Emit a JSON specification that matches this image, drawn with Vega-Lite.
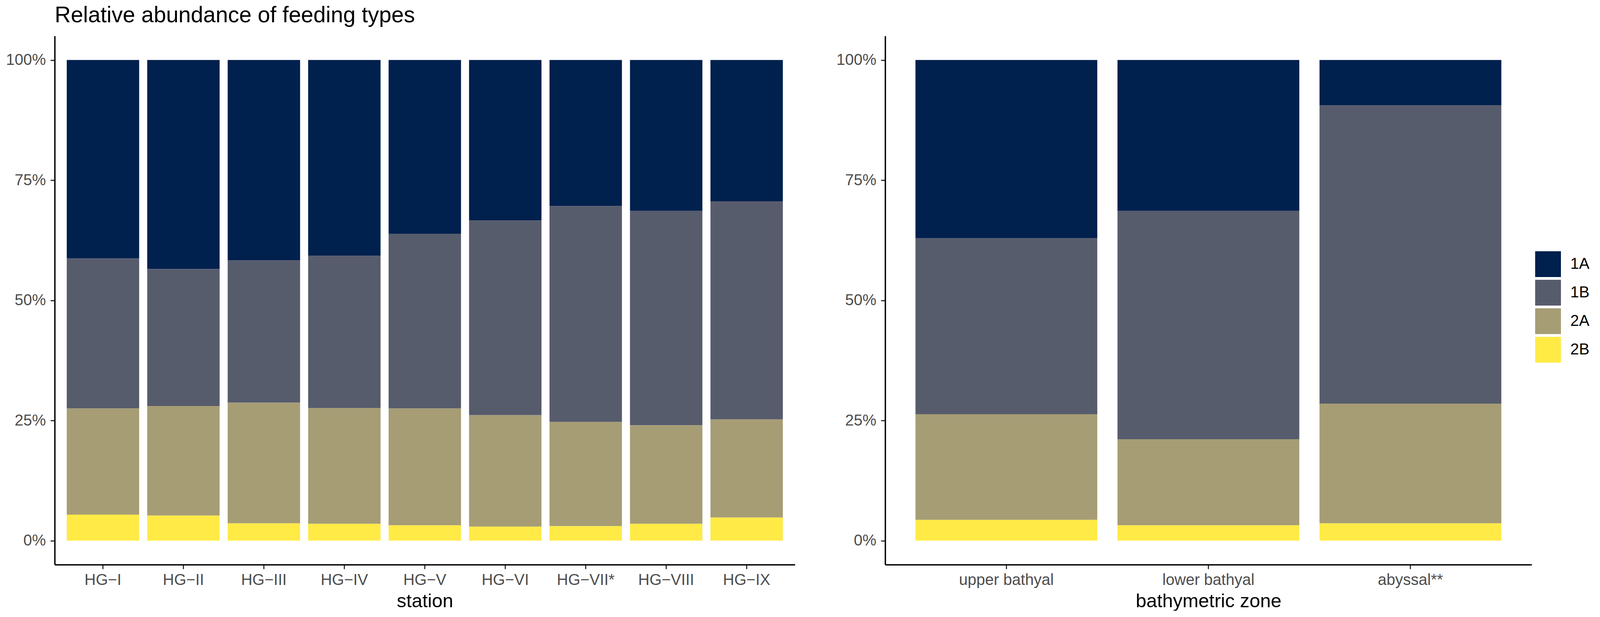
{
  "$schema": "https://vega.github.io/schema/vega-lite/v6.json",
  "padding": {"left": 14, "top": 11, "right": 0, "bottom": 0},
  "background": "white",
  "bounds": "flush",
  "spacing": 231,
  "title": {
    "text": "Relative abundance of feeding types",
    "anchor": "start",
    "frame": "group",
    "font": "Liberation Sans",
    "fontSize": 57,
    "fontWeight": "normal",
    "color": "black",
    "offset": 23
  },
  "datasets": {
    "stations": [
      {"station": "HG−I", "type": "1A", "share": 41.3},
      {"station": "HG−I", "type": "1B", "share": 31.2},
      {"station": "HG−I", "type": "2A", "share": 22.1},
      {"station": "HG−I", "type": "2B", "share": 5.4},
      {"station": "HG−II", "type": "1A", "share": 43.5},
      {"station": "HG−II", "type": "1B", "share": 28.5},
      {"station": "HG−II", "type": "2A", "share": 22.8},
      {"station": "HG−II", "type": "2B", "share": 5.2},
      {"station": "HG−III", "type": "1A", "share": 41.7},
      {"station": "HG−III", "type": "1B", "share": 29.6},
      {"station": "HG−III", "type": "2A", "share": 25.1},
      {"station": "HG−III", "type": "2B", "share": 3.6},
      {"station": "HG−IV", "type": "1A", "share": 40.7},
      {"station": "HG−IV", "type": "1B", "share": 31.7},
      {"station": "HG−IV", "type": "2A", "share": 24.1},
      {"station": "HG−IV", "type": "2B", "share": 3.5},
      {"station": "HG−V", "type": "1A", "share": 36.2},
      {"station": "HG−V", "type": "1B", "share": 36.3},
      {"station": "HG−V", "type": "2A", "share": 24.3},
      {"station": "HG−V", "type": "2B", "share": 3.2},
      {"station": "HG−VI", "type": "1A", "share": 33.4},
      {"station": "HG−VI", "type": "1B", "share": 40.5},
      {"station": "HG−VI", "type": "2A", "share": 23.2},
      {"station": "HG−VI", "type": "2B", "share": 2.9},
      {"station": "HG−VII*", "type": "1A", "share": 30.4},
      {"station": "HG−VII*", "type": "1B", "share": 44.9},
      {"station": "HG−VII*", "type": "2A", "share": 21.7},
      {"station": "HG−VII*", "type": "2B", "share": 3.0},
      {"station": "HG−VIII", "type": "1A", "share": 31.4},
      {"station": "HG−VIII", "type": "1B", "share": 44.6},
      {"station": "HG−VIII", "type": "2A", "share": 20.5},
      {"station": "HG−VIII", "type": "2B", "share": 3.5},
      {"station": "HG−IX", "type": "1A", "share": 29.4},
      {"station": "HG−IX", "type": "1B", "share": 45.4},
      {"station": "HG−IX", "type": "2A", "share": 20.4},
      {"station": "HG−IX", "type": "2B", "share": 4.8}
    ],
    "zones": [
      {"zone": "upper bathyal", "type": "1A", "share": 37.1},
      {"zone": "upper bathyal", "type": "1B", "share": 36.6},
      {"zone": "upper bathyal", "type": "2A", "share": 22.0},
      {"zone": "upper bathyal", "type": "2B", "share": 4.3},
      {"zone": "lower bathyal", "type": "1A", "share": 31.4},
      {"zone": "lower bathyal", "type": "1B", "share": 47.5},
      {"zone": "lower bathyal", "type": "2A", "share": 17.9},
      {"zone": "lower bathyal", "type": "2B", "share": 3.2},
      {"zone": "abyssal**", "type": "1A", "share": 9.4},
      {"zone": "abyssal**", "type": "1B", "share": 62.1},
      {"zone": "abyssal**", "type": "2A", "share": 24.9},
      {"zone": "abyssal**", "type": "2B", "share": 3.6}
    ]
  },
  "hconcat": [
    {
      "width": 1895,
      "height": 1353,
      "data": {"name": "stations"},
      "mark": "bar",
      "encoding": {
        "x": {
          "field": "station",
          "type": "nominal",
          "sort": null,
          "scale": {"paddingInner": 0.1, "paddingOuter": 0.15},
          "title": "station"
        },
        "y": {
          "field": "share",
          "type": "quantitative",
          "stack": "normalize",
          "scale": {"domain": [-0.05, 1.05], "nice": false},
          "axis": {"values": [0, 0.25, 0.5, 0.75, 1], "format": ".0%"},
          "title": null
        },
        "color": {
          "field": "type",
          "type": "nominal",
          "scale": {"domain": ["1A", "1B", "2A", "2B"], "range": ["#00204D", "#575C6D", "#A69D75", "#FFEA46"]},
          "legend": {
            "title": null,
            "orient": "none",
            "legendX": 3790,
            "legendY": 551,
            "symbolType": "square",
            "symbolSize": 4356,
            "symbolStrokeWidth": 0,
            "symbolOpacity": 1,
            "rowPadding": 7,
            "labelOffset": 24,
            "labelFont": "Liberation Sans",
            "labelFontSize": 40,
            "labelColor": "black",
            "padding": 0
          }
        },
        "order": {"field": "type", "sort": "descending"}
      }
    },
    {
      "width": 1655,
      "height": 1353,
      "data": {"name": "zones"},
      "mark": "bar",
      "encoding": {
        "x": {
          "field": "zone",
          "type": "nominal",
          "sort": null,
          "scale": {"paddingInner": 0.1, "paddingOuter": 0.15},
          "title": "bathymetric zone"
        },
        "y": {
          "field": "share",
          "type": "quantitative",
          "stack": "normalize",
          "scale": {"domain": [-0.05, 1.05], "nice": false},
          "axis": {"values": [0, 0.25, 0.5, 0.75, 1], "format": ".0%"},
          "title": null
        },
        "color": {"field": "type", "type": "nominal"},
        "order": {"field": "type", "sort": "descending"}
      }
    }
  ],
  "resolve": {"scale": {"y": "independent"}},
  "config": {
    "view": {"stroke": null},
    "axis": {
      "grid": false,
      "domainColor": "black",
      "domainWidth": 3.5,
      "tickColor": "#333333",
      "tickWidth": 3,
      "tickSize": 11,
      "labelFont": "Liberation Sans",
      "labelFontSize": 40,
      "labelColor": "#4D4D4D",
      "labelLimit": 0,
      "titleFont": "Liberation Sans",
      "titleFontSize": 49,
      "titleFontWeight": "normal",
      "titleColor": "black"
    },
    "axisX": {"labelAngle": 0, "labelPadding": 8, "titlePadding": 10},
    "axisY": {"labelPadding": 12}
  }
}
